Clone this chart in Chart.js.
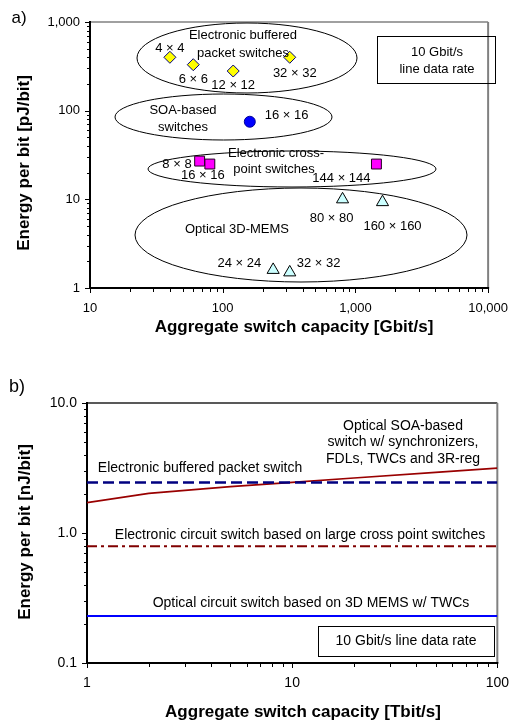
<!DOCTYPE html>
<html>
<head>
<meta charset="utf-8">
<script src="https://cdn.jsdelivr.net/npm/chart.js@4.4.0/dist/chart.umd.min.js"></script>
<style>
  body { margin: 0; background: #fff; }
  canvas { position: absolute; left: 0; }
</style>
</head>
<body>
<canvas id="chartA" width="521" height="345" style="top:0"></canvas>
<canvas id="chartB" width="521" height="376" style="top:345px"></canvas>
<script>
// ---- a) energy per bit of switch fabrics (points) ----
const bufferedCap = [40, 60, 120, 320];
const bufferedEnergy = [400, 330, 280, 400];
const bufferedNames = ["4 × 4", "6 × 6", "12 × 12", "32 × 32"];

const soaCap = [160];
const soaEnergy = [75];
const soaNames = ["16 × 16"];

const crossCap = [67, 80, 1440];
const crossEnergy = [27, 25, 25];
const crossNames = ["8 × 8", "16 × 16", "144 × 144"];

const memsCap = [800, 1600, 240, 320];
const memsEnergy = [10, 9.3, 1.6, 1.5];
const memsNames = ["80 × 80", "160 × 160", "24 × 24", "32 × 32"];

const aXTicks = [10, 100, 1000, 10000];
const aXLabels = ["10", "100", "1,000", "10,000"];
const aYTicks = [1, 10, 100, 1000];
const aYLabels = ["1", "10", "100", "1,000"];

// ---- b) energy per bit vs capacity (lines) ----
const soaLineCap = [1, 2, 5, 10, 20, 50, 100];
const soaLineEnergy = [1.71, 2.02, 2.27, 2.45, 2.65, 2.93, 3.15];
const flatCap = [1, 100];
const bufferedLineEnergy = [2.45, 2.45];
const elecCircuitEnergy = [0.79, 0.79];
const optCircuitEnergy = [0.23, 0.23];

const bXTicks = [1, 10, 100];
const bXLabels = ["1", "10", "100"];
const bYTicks = [0.1, 1, 10];
const bYLabels = ["0.1", "1.0", "10.0"];

const FONT = "'Liberation Sans', Arial, Helvetica, sans-serif";
Chart.defaults.font.family = FONT;
Chart.defaults.color = "#000";

function pts(xs, ys) {
  return xs.map((x, i) => ({ x: x, y: ys[i] }));
}

function text(ctx, s, x, y, size, align, bold) {
  ctx.font = (bold ? "bold " : "") + size + "px " + FONT;
  ctx.textAlign = align || "center";
  ctx.textBaseline = "middle";
  ctx.fillStyle = "#000";
  ctx.fillText(s, x, y);
}

function seg(ctx, x1, y1, x2, y2) {
  ctx.beginPath();
  ctx.moveTo(x1, y1);
  ctx.lineTo(x2, y2);
  ctx.stroke();
}

// plot frame plus major/minor tick marks on the log axes
function drawFrame(chart, topColor, rightColor) {
  const ctx = chart.ctx, a = chart.chartArea;
  const x = chart.scales.x, y = chart.scales.y;
  ctx.save();
  ctx.lineWidth = 1.5;
  ctx.strokeStyle = topColor;
  seg(ctx, a.left, a.top, a.right, a.top);
  ctx.lineWidth = 2;
  ctx.strokeStyle = rightColor;
  seg(ctx, a.right, a.top, a.right, a.bottom);
  ctx.strokeStyle = "#000";
  seg(ctx, a.left, a.top - 1, a.left, a.bottom + 1);
  seg(ctx, a.left - 1, a.bottom, a.right + 1, a.bottom);
  ctx.lineWidth = 1;
  x.ticks.forEach(t => {
    for (let k = 1; k < 10; k++) {
      const v = t.value * k;
      if (v > x.max * 1.0001) break;
      const px = Math.round(x.getPixelForValue(v)) + 0.5;
      seg(ctx, px, a.bottom, px, a.bottom + (k === 1 ? 5 : 4));
    }
  });
  y.ticks.forEach(t => {
    for (let k = 1; k < 10; k++) {
      const v = t.value * k;
      if (v > y.max * 1.0001) break;
      const py = Math.round(y.getPixelForValue(v)) + 0.5;
      seg(ctx, a.left - (k === 1 ? 5 : 3), py, a.left, py);
    }
  });
  ctx.restore();
}

function logAxis(min, max, ticks, labels, size, pad, fit) {
  return {
    type: "logarithmic",
    min: min,
    max: max,
    grid: { display: false, drawTicks: false },
    border: { display: false },
    afterBuildTicks: s => { s.ticks = ticks.map(v => ({ value: v })); },
    afterFit: fit,
    ticks: {
      autoSkip: false,
      maxRotation: 0,
      padding: pad,
      color: "#000",
      font: { size: size },
      callback: (v, i) => labels[i]
    }
  };
}

// ---------------- chart a ----------------
const ellipsesA = [
  [247, 58, 110, 35],
  [223.5, 117, 108.5, 23],
  [292, 169, 144, 18],
  [301, 235, 166, 47]
];
const groupTextA = [
  ["Electronic buffered", 243, 35],
  ["packet switches", 243, 53],
  ["SOA-based", 183, 110],
  ["switches", 183, 127],
  ["Electronic cross-", 276, 153],
  ["point switches", 274, 169],
  ["Optical 3D-MEMS", 237, 229]
];
// label offsets from each marker: [dx, dy, align]
const labelPosA = [
  [[0, -9, "center"], [0, 15, "center"], [0, 14, "center"], [5, 16, "center"]],
  [[15, -6, "left"]],
  [[-8, 3, "right"], [-7, 11, "center"], [-35, 14, "center"]],
  [[-11, 19, "center"], [10, 24, "center"], [-12, -6, "right"], [7, -9, "left"]]
];
const namesA = [bufferedNames, soaNames, crossNames, memsNames];

const decorA = {
  id: "decorA",
  beforeDatasetsDraw(chart) {
    const ctx = chart.ctx;
    drawFrame(chart, "#808080", "#808080");
    ctx.save();
    ctx.strokeStyle = "#000";
    ctx.lineWidth = 1;
    ellipsesA.forEach(e => {
      ctx.beginPath();
      ctx.ellipse(e[0], e[1], e[2], e[3], 0, 0, Math.PI * 2);
      ctx.stroke();
    });
    ctx.strokeRect(377.5, 36.5, 118, 47);
    ctx.restore();
  },
  afterDatasetsDraw(chart) {
    const ctx = chart.ctx;
    ctx.save();
    groupTextA.forEach(g => text(ctx, g[0], g[1], g[2], 13));
    text(ctx, "10 Gbit/s", 437, 52, 13);
    text(ctx, "line data rate", 437, 69, 13);
    namesA.forEach((names, d) => {
      const meta = chart.getDatasetMeta(d);
      names.forEach((n, j) => {
        const p = meta.data[j], o = labelPosA[d][j];
        text(ctx, n, p.x + o[0], p.y + o[1], 13, o[2]);
      });
    });
    text(ctx, "a)", 19, 18, 17);
    text(ctx, "Aggregate switch capacity [Gbit/s]", 294, 327, 17, "center", true);
    ctx.translate(24, 163);
    ctx.rotate(-Math.PI / 2);
    text(ctx, "Energy per bit [pJ/bit]", 0, 0, 17, "center", true);
    ctx.restore();
  }
};

new Chart(document.getElementById("chartA"), {
  type: "scatter",
  data: {
    datasets: [
      {
        data: pts(bufferedCap, bufferedEnergy),
        pointStyle: "rectRot", pointRadius: 6,
        backgroundColor: "#FFFF00", borderColor: "#000080", borderWidth: 1
      },
      {
        data: pts(soaCap, soaEnergy),
        pointStyle: "circle", pointRadius: 5.5,
        backgroundColor: "#0000FF", borderColor: "#000099", borderWidth: 1
      },
      {
        data: pts(crossCap, crossEnergy),
        pointStyle: "rect", pointRadius: 7,
        backgroundColor: "#FF00FF", borderColor: "#220022", borderWidth: 1
      },
      {
        data: pts(memsCap, memsEnergy),
        pointStyle: "triangle", pointRadius: 7,
        backgroundColor: "#CCFFFF", borderColor: "#000", borderWidth: 1
      }
    ]
  },
  options: {
    responsive: false,
    animation: false,
    events: [],
    layout: { padding: { top: 22, right: 21, left: 0, bottom: 0 } },
    plugins: { legend: { display: false }, tooltip: { enabled: false } },
    scales: {
      x: logAxis(10, 10000, aXTicks, aXLabels, 13, 13, s => { s.height = 57; }),
      y: logAxis(1, 1000, aYTicks, aYLabels, 13, 10, s => { s.width = 90; })
    }
  },
  plugins: [decorA]
});

// ---------------- chart b ----------------
const decorB = {
  id: "decorB",
  beforeDatasetsDraw(chart) {
    drawFrame(chart, "#222", "#808080");
  },
  afterDatasetsDraw(chart) {
    const ctx = chart.ctx;
    ctx.save();
    text(ctx, "Optical SOA-based", 403, 81, 14);
    text(ctx, "switch w/ synchronizers,", 403, 97, 14);
    text(ctx, "FDLs, TWCs and 3R-reg", 403, 114, 14);
    text(ctx, "Electronic buffered packet switch", 200, 123, 14);
    text(ctx, "Electronic circuit switch based on large cross point switches", 300, 190, 14);
    text(ctx, "Optical circuit switch based on 3D MEMS w/ TWCs", 311, 258, 14);
    ctx.fillStyle = "#fff";
    ctx.fillRect(318, 281, 176, 30);
    ctx.strokeStyle = "#000";
    ctx.lineWidth = 1;
    ctx.strokeRect(318.5, 281.5, 176, 30);
    text(ctx, "10 Gbit/s line data rate", 406, 296, 14);
    text(ctx, "b)", 17, 42, 18);
    text(ctx, "Aggregate switch capacity [Tbit/s]", 303, 367, 17, "center", true);
    ctx.translate(25, 187);
    ctx.rotate(-Math.PI / 2);
    text(ctx, "Energy per bit [nJ/bit]", 0, 0, 17, "center", true);
    ctx.restore();
  }
};

new Chart(document.getElementById("chartB"), {
  type: "scatter",
  data: {
    datasets: [
      {
        data: pts(flatCap, bufferedLineEnergy),
        showLine: true, pointRadius: 0,
        borderColor: "#000080", borderWidth: 2.5, borderDash: [11, 5]
      },
      {
        data: pts(soaLineCap, soaLineEnergy),
        showLine: true, pointRadius: 0,
        borderColor: "#990000", borderWidth: 1.7
      },
      {
        data: pts(flatCap, elecCircuitEnergy),
        showLine: true, pointRadius: 0,
        borderColor: "#800000", borderWidth: 2, borderDash: [10, 4, 3, 4]
      },
      {
        data: pts(flatCap, optCircuitEnergy),
        showLine: true, pointRadius: 0,
        borderColor: "#0000FF", borderWidth: 2
      }
    ]
  },
  options: {
    responsive: false,
    animation: false,
    events: [],
    layout: { padding: { top: 58, right: 20, left: 0, bottom: 0 } },
    plugins: { legend: { display: false }, tooltip: { enabled: false } },
    scales: {
      x: logAxis(1, 100, bXTicks, bXLabels, 14, 12, s => { s.height = 58; }),
      y: logAxis(0.1, 10, bYTicks, bYLabels, 14, 10, s => { s.width = 87; })
    }
  },
  plugins: [decorB]
});
</script>
</body>
</html>
